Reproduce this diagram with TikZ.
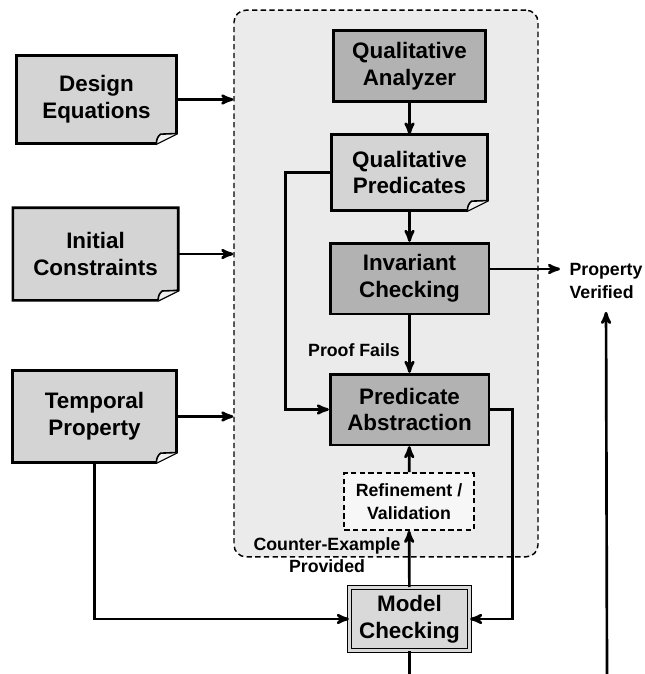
\documentclass[tikz,border=0pt]{standalone}
\usepackage{fontspec}
\setmainfont{Liberation Sans}
\usetikzlibrary{arrows,backgrounds}

\definecolor{boxgray}{HTML}{B2B2B2}
\definecolor{docgray}{HTML}{D4D4D4}
\definecolor{loopgray}{HTML}{EBEBEB}
\definecolor{mcgray}{HTML}{D9D9D9}

\begin{document}
\begin{tikzpicture}[x=0.75pt,y=-0.75pt,->,>=stealth',line width=2pt,
  big/.style={font=\fontsize{16.8}{20}\selectfont\bfseries,align=center},
  small/.style={font=\fontsize{13.3}{17}\selectfont\bfseries,align=center},
  proc node/.style={big,rectangle,draw,fill=boxgray,line width=2pt,
    minimum width=119pt,minimum height=53pt,inner sep=0pt},
  doc node/.style={big,rectangle,minimum width=118pt,minimum height=64pt,inner sep=0pt},
  loop box/.style={rectangle,draw,dash pattern=on 4pt off 2.5pt,rounded corners=9pt,
    fill=loopgray,line width=1.1pt,minimum width=228pt,minimum height=410pt}]

  \useasboundingbox (0,0) rectangle (645,674);

  % inputs
  \node[doc node] (deq) at (96.5,99.5) {Design\\Equations};
  \node[doc node,minimum width=122pt,minimum height=67.5pt] (icon) at (95.5,254) {Initial\\Constraints};
  \node[doc node,minimum width=121pt,minimum height=67pt] (tprop) at (94.5,416.5) {Temporal\\Property};

  % abstraction loop
  \node[proc node,minimum width=114pt] (qa) at (409.5,66) {Qualitative\\Analyzer};
  \node[doc node,minimum width=115pt,minimum height=55pt] (qpred) at (409.5,172.5) {Qualitative\\Predicates};
  \node[proc node] (invc) at (409.5,278.5) {Invariant\\Checking};
  \node[proc node] (pabs) at (409.5,409.5) {Predicate\\Abstraction};
  \node[small,draw,fill=white!60!loopgray,dash pattern=on 4pt off 2.5pt,line width=1.5pt,
    minimum width=97pt,minimum height=42.5pt,inner sep=0pt] (rv) at (409,501.5) {Refinement /\\Validation};
  \node[big,draw,double=mcgray,double distance=2pt,line width=1pt,fill=mcgray,
    minimum width=90pt,minimum height=47pt,inner sep=0pt] (mc) at (409.5,619) {Model\\Checking};

  % labels
  \node[small] (fails) at (354,350) {Proof Fails};
  \node[small] (cex) at (327,555) {Counter-Example\\Provided};
  \node[small,align=left,inner sep=0pt] (pv) at (606,281) {Property\\Verified};

  \coordinate (pvtip) at (560,269);
  \coordinate (pvin) at (607,674);
  \coordinate (mcout) at (409.5,674);

  \begin{scope}[on background layer]
    \node[loop box] (loop) at (386,283.5) {};
    \foreach \n in {deq,icon,tprop,qpred}{
      \draw[-,fill=docgray,line width=2pt] (\n.north west) -- (\n.north east)
        -- ([yshift=7.5pt]\n.south east) -- ([xshift=-15pt]\n.south east)
        -- (\n.south west) -- cycle;
      \draw[-,fill=white!65!docgray,line width=1.2pt] ([xshift=-15pt]\n.south east)
        to[bend left=25] ([xshift=-12pt,yshift=7pt]\n.south east)
        -- ([yshift=7.5pt]\n.south east);
    }
  \end{scope}

  \path (qa) edge (qpred)
        (qpred) edge (invc)
        (invc) edge (pabs)
        (rv) edge (pabs)
        (mc) edge (rv);

  \draw (deq) -- (deq -| loop.west);
  \draw (icon) -- (icon -| loop.west);
  \draw (tprop) -- (tprop -| loop.west);
  \draw (qpred.west) -- ++(-46,0) |- (pabs.west);
  \draw (tprop) |- (mc);
  \draw (pabs.east) -- ++(22,0) |- (mc.east);
  \draw (invc.east |- pvtip) -- (pvtip);
  \draw[shorten >=9pt] (pvin) -- (pv.south);
  \draw[-] (mc) -- (mcout);
\end{tikzpicture}
\end{document}
